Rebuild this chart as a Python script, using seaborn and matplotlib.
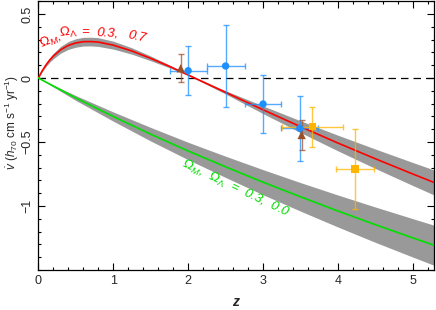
import matplotlib
matplotlib.use("Agg")
import matplotlib.pyplot as plt
import seaborn as sns
import numpy as np
import pandas as pd

# ==========================================
# DONNEES
# ==========================================
z_red = [0.0, 0.05, 0.1, 0.15, 0.2, 0.3, 0.4, 0.5, 0.6, 0.7, 0.8, 1.0, 1.25, 1.5,
         1.75, 2.0, 2.5, 3.0, 3.5, 4.0, 4.5, 5.0, 5.3]
v_red = [0.0, 0.055, 0.101, 0.140, 0.172, 0.222, 0.255, 0.274, 0.284, 0.285, 0.281,
         0.257, 0.211, 0.154, 0.091, 0.024, -0.112, -0.248, -0.380, -0.508, -0.631,
         -0.750, -0.820]
red_lo = [0.0, 0.048, 0.089, 0.123, 0.151, 0.195, 0.224, 0.241, 0.250, 0.251, 0.247,
          0.226, 0.186, 0.135, 0.080, 0.021, -0.125, -0.278, -0.426, -0.569, -0.707,
          -0.840, -0.918]
red_hi = [0.0, 0.061, 0.113, 0.157, 0.193, 0.249, 0.285, 0.307, 0.318, 0.319, 0.315,
          0.288, 0.236, 0.172, 0.102, 0.027, -0.099, -0.218, -0.334, -0.447, -0.555,
          -0.660, -0.722]

z_green = [0.0, 0.5, 1.0, 1.5, 2.0, 2.5, 3.0, 3.5, 4.0, 4.5, 5.0, 5.3]
v_green = [0.0, -0.156, -0.301, -0.439, -0.570, -0.694, -0.814, -0.928, -1.039,
           -1.146, -1.249, -1.310]
green_lo = [0.0, -0.175, -0.337, -0.492, -0.638, -0.777, -0.912, -1.040, -1.164,
            -1.284, -1.399, -1.467]
green_hi = [0.0, -0.137, -0.265, -0.386, -0.502, -0.611, -0.716, -0.817, -0.914,
            -1.008, -1.099, -1.153]

# points avec barres d'erreur
z_blue = [2.0, 2.5, 3.0, 3.49]
v_blue = [0.057, 0.094, -0.203, -0.393]
v_blue_err = [0.19, 0.32, 0.23, 0.255]
z_blue_err = [0.245, 0.255, 0.245, 0.25]

z_brown = [1.90, 3.515]
v_brown = [0.076, -0.445]
v_brown_err = [0.11, 0.12]

z_yellow = [3.66, 4.23]
v_yellow = [-0.380, -0.711]
v_yellow_err = [0.156, 0.31]
z_yellow_err = [0.41, 0.255]

# ==========================================
# FIGURE
# ==========================================
sns.set_style("ticks")
plt.rcParams["font.family"] = ["Liberation Sans", "DejaVu Sans"]
plt.rcParams["mathtext.fontset"] = "custom"
plt.rcParams["mathtext.rm"] = "Liberation Sans"
plt.rcParams["mathtext.it"] = "Liberation Sans:italic"
plt.rcParams["mathtext.bf"] = "Liberation Sans:bold:italic"

fig = plt.figure(figsize=(4.36, 3.10), dpi=100)
ax = fig.add_axes([0.088, 0.129, 0.907, 0.867])

# bandes grises
ax.fill_between(z_red, red_lo, red_hi, color="#999999", lw=0, zorder=1)
ax.fill_between(z_green, green_lo, green_hi, color="#999999", lw=0, zorder=1)

df_red = pd.DataFrame({"z": z_red, "v": v_red})
df_green = pd.DataFrame({"z": z_green, "v": v_green})
sns.lineplot(data=df_red, x="z", y="v", color="#ff0000", lw=1.2, ax=ax, zorder=3)
sns.lineplot(data=df_green, x="z", y="v", color="#00e000", lw=1.2, ax=ax, zorder=3)

ax.axhline(0, color="black", ls=(0, (6, 4)), lw=0.9, zorder=2)

# barres d'erreur
ax.errorbar(z_blue, v_blue, yerr=v_blue_err, xerr=z_blue_err, fmt="none",
            ecolor="#1e8fff", elinewidth=1.0, capsize=2, alpha=0.75, zorder=4)
ax.errorbar(z_brown, v_brown, yerr=v_brown_err, fmt="none",
            ecolor="#a0522d", elinewidth=1.0, capsize=2, alpha=0.75, zorder=4)
ax.errorbar(z_yellow, v_yellow, yerr=v_yellow_err, xerr=z_yellow_err, fmt="none",
            ecolor="#ffb400", elinewidth=1.0, capsize=2, alpha=0.75, zorder=4)

sns.scatterplot(x=z_blue, y=v_blue, color="#1e8fff", marker="o", s=28,
                edgecolor="none", ax=ax, zorder=5)
sns.scatterplot(x=z_brown, y=v_brown, color="#9c4f26", marker="^", s=36,
                edgecolor="none", ax=ax, zorder=5)
sns.scatterplot(x=z_yellow, y=v_yellow, color="#ffb400", marker="s", s=30,
                edgecolor="none", ax=ax, zorder=5)

# annotations (le texte rouge suit la courbe)
txt = dict(fontsize=9.5, style="italic", ha="center", va="center",
           rotation_mode="anchor")
red_bits = [(r"$\Omega_M$,", 0.156, 0.289, 22), (r"$\Omega_\Lambda$", 0.396, 0.352, 6),
            ("=", 0.622, 0.359, 0), ("0.3,", 0.928, 0.352, -3), ("0.7", 1.314, 0.320, -12)]
for s_, zx, vy, rot in red_bits:
    ax.text(zx, vy, s_, color="#ff0000", rotation=rot, **txt)
ax.text(2.63, -0.86, r"$\Omega_M$,  $\Omega_\Lambda$  =  0.3,  0.0", color="#00e000",
        rotation=-25.5, **txt)

# axes
ax.set_xlim(0, 5.28)
ax.set_ylim(-1.5, 0.6)
ax.set_xticks([0, 1, 2, 3, 4, 5])
ax.set_yticks([-1, -0.5, 0, 0.5])
ax.set_yticklabels(["\u22121", "\u22120.5", "0", "0.5"], rotation=90, va="center")
ax.set_xticks(np.arange(0, 5.3, 0.2), minor=True)
ax.set_yticks(np.arange(-1.5, 0.61, 0.1), minor=True)
ax.tick_params(which="both", direction="in", top=True, right=True, labelsize=9,
               color="black", width=0.8)
ax.tick_params(which="major", length=5)
ax.tick_params(which="minor", length=2.5)
for s in ax.spines.values():
    s.set_linewidth(0.9)
    s.set_color("black")

ax.set_xlabel(r"$\mathbf{z}$", fontsize=10, labelpad=6)
ax.set_ylabel(r"$\dot{v}$ ($h_{70}$ cm s$^{-1}$ yr$^{-1}$)", fontsize=8.5)
ax.yaxis.set_label_coords(-0.045, 0.55)

fig.savefig("out.png", dpi=100)
plt.close(fig)
